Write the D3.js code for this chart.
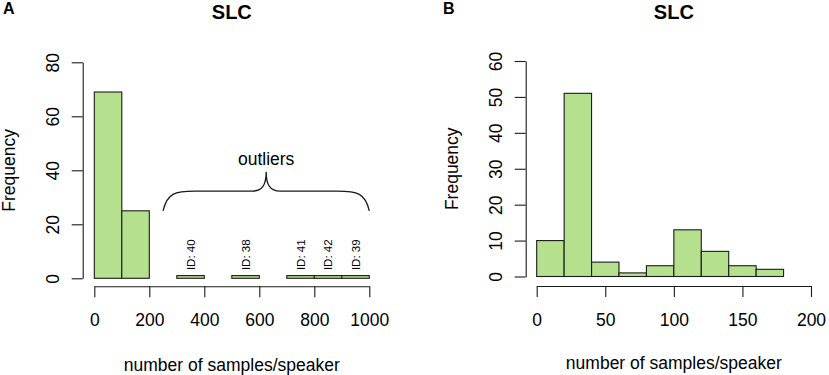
<!DOCTYPE html>
<html>
<head>
<meta charset="utf-8">
<script src="https://cdn.jsdelivr.net/npm/d3@7"></script>
<style>
  body { margin: 0; background: #fff; }
  svg { display: block; font-family: 'Liberation Sans', Arial, sans-serif; }
</style>
</head>
<body>
<div id="app"></div>
<script>
'use strict'

// panel A: all speakers, bins of 100
const breaksA = [0, 100, 200, 300, 400, 500, 600, 700, 800, 900, 1000]
const countsA = [69, 25, 0, 1, 0, 1, 0, 1, 1, 1]
const xTicksA = [0, 200, 400, 600, 800, 1000]
const yTicksA = [0, 20, 40, 60, 80]

// outlier labels (bin centre, text)
const outlierX = [350, 550, 750, 850, 950]
const outlierLabels = ['ID: 40', 'ID: 38', 'ID: 41', 'ID: 42', 'ID: 39']

// curly brace over the outliers, in data units
const braceX = [250, 1000]
const braceY = { end: 25, mid: 32.3, tip: 39.5 }

// panel B: without outliers, bins of 20
const breaksB = [0, 20, 40, 60, 80, 100, 120, 140, 160, 180]
const countsB = [10, 51, 4, 1, 3, 13, 7, 3, 2]
const xTicksB = [0, 50, 100, 150, 200]
const yTicksB = [0, 10, 20, 30, 40, 50, 60]

const fill = '#b5e08d'
const ink = '#1a1a1a'
const font = "'Liberation Sans', Arial, sans-serif"

const svg = d3.select('#app').append('svg')
  .attr('width', 829)
  .attr('height', 375)

const drawPanel = (p) => {
  const g = svg.append('g')

  const x = d3.scaleLinear().domain(p.xDomain).range(p.xRange)
  const y = d3.scaleLinear().domain(p.yDomain).range(p.yRange)

  const bins = p.counts.map((c, i) => ({ x0: p.breaks[i], x1: p.breaks[i + 1], n: c }))

  g.selectAll('rect.bar')
    .data(bins)
    .enter().append('rect')
    .attr('class', 'bar')
    .attr('x', d => x(d.x0))
    .attr('width', d => x(d.x1) - x(d.x0))
    .attr('y', d => y(d.n))
    .attr('height', d => y(0) - y(d.n))
    .attr('fill', fill)
    .attr('stroke', ink)
    .attr('stroke-width', 1.1)

  // x axis, R style: offset below the bars
  const xAxis = g.append('g')
    .attr('transform', `translate(0,${p.xAxisY})`)
    .call(d3.axisBottom(x).tickValues(p.xTicks).tickFormat(d3.format('d'))
      .tickSize(11).tickSizeOuter(0))
  xAxis.attr('font-family', font)
  xAxis.selectAll('text')
    .attr('y', 40)
    .attr('dy', 0)
    .attr('fill', '#000')
    .style('font-size', '17.5px')

  // y axis with labels parallel to the axis
  const yAxis = g.append('g')
    .attr('transform', `translate(${p.yAxisX},0)`)
    .call(d3.axisLeft(y).tickValues(p.yTicks).tickFormat(d3.format('d'))
      .tickSize(11).tickSizeOuter(0))
  yAxis.attr('font-family', font)
  yAxis.selectAll('text')
    .attr('x', 0)
    .attr('y', -24)
    .attr('dy', 0)
    .attr('transform', 'rotate(-90)')
    .attr('text-anchor', 'middle')
    .attr('fill', '#000')
    .style('font-size', '17.5px')

  g.selectAll('.domain, .tick line').attr('stroke', ink).attr('stroke-width', 1.1)

  const cx = (p.xRange[0] + p.xRange[1]) / 2
  const cy = (p.yRange[0] + p.yRange[1]) / 2

  g.append('text')
    .attr('x', cx).attr('y', 18.5)
    .attr('text-anchor', 'middle')
    .style('font-size', '20px').style('font-weight', 'bold')
    .text('SLC')

  g.append('text')
    .attr('x', p.letterX).attr('y', 13.5)
    .style('font-size', '16px').style('font-weight', 'bold')
    .text(p.letter)

  g.append('text')
    .attr('x', cx).attr('y', p.xLabelY)
    .attr('text-anchor', 'middle')
    .style('font-size', '17.5px')
    .text('number of samples/speaker')

  g.append('text')
    .attr('transform', `translate(${p.yLabelX},${cy}) rotate(-90)`)
    .attr('text-anchor', 'middle')
    .style('font-size', '17.5px')
    .text('Frequency')

  return { g, x, y }
}

const A = drawPanel({
  letter: 'A', letterX: 3,
  breaks: breaksA, counts: countsA, xTicks: xTicksA, yTicks: yTicksA,
  xDomain: [0, 1000], xRange: [94.3, 369.3],
  yDomain: [0, 80], yRange: [278.3, 62.3],
  xAxisY: 286.3, yAxisX: 82.7, xLabelY: 370.5, yLabelX: 15.3
})

const B = drawPanel({
  letter: 'B', letterX: 443,
  breaks: breaksB, counts: countsB, xTicks: xTicksB, yTicks: yTicksB,
  xDomain: [0, 200], xRange: [536.7, 811],
  yDomain: [0, 60], yRange: [276.5, 61],
  xAxisY: 286, yAxisX: 525.7, xLabelY: 368.8, yLabelX: 457.5
})

// outlier annotations on panel A
A.g.selectAll('text.id')
  .data(outlierX)
  .enter().append('text')
  .attr('class', 'id')
  .attr('transform', d => `translate(${A.x(d)},${A.y(1) - 5.5}) rotate(-90)`)
  .attr('dy', '0.36em')
  .style('font-size', '11.5px')
  .text((d, i) => outlierLabels[i])

const bx0 = A.x(braceX[0])
const bx1 = A.x(braceX[1])
const bm = (bx0 + bx1) / 2
const yEnd = A.y(braceY.end)
const yMid = A.y(braceY.mid)
const yTip = A.y(braceY.tip)

const brace = d3.path()
brace.moveTo(bx0, yEnd)
brace.bezierCurveTo(bx0 + 4, yMid + 2, bx0 + 12, yMid, bx0 + 32, yMid)
brace.lineTo(bm - 14, yMid)
brace.bezierCurveTo(bm - 4, yMid, bm, yMid - 6, bm, yTip)
brace.bezierCurveTo(bm, yMid - 6, bm + 4, yMid, bm + 14, yMid)
brace.lineTo(bx1 - 32, yMid)
brace.bezierCurveTo(bx1 - 12, yMid, bx1 - 4, yMid + 2, bx1, yEnd)

A.g.append('path')
  .attr('d', brace.toString())
  .attr('fill', 'none')
  .attr('stroke', ink)
  .attr('stroke-width', 1.3)

A.g.append('text')
  .attr('x', bm)
  .attr('y', 165)
  .attr('text-anchor', 'middle')
  .style('font-size', '17.5px')
  .text('outliers')
</script>
</body>
</html>
